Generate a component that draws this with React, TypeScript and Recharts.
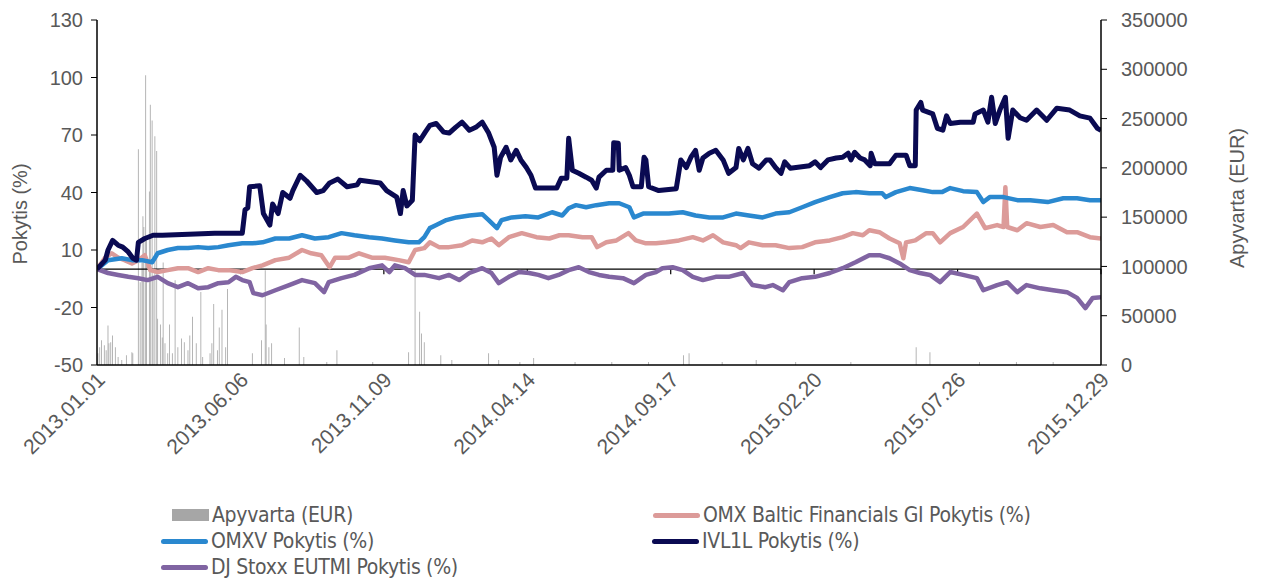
import { ComposedChart, Line, Bar, XAxis, YAxis, ReferenceLine } from "recharts";

// x positions are days counted from 2013.01.01
const tickDays = [0, 156, 312, 468, 624, 780, 936, 1092];
const tickLabels = [
  "2013.01.01",
  "2013.06.06",
  "2013.11.09",
  "2014.04.14",
  "2014.09.17",
  "2015.02.20",
  "2015.07.26",
  "2015.12.29",
];

const volDays = [1, 3, 5, 8, 10, 12, 13, 15, 17, 20, 23, 27, 32, 38, 39, 45, 47, 49, 50, 51, 53, 54, 57, 58, 60, 61, 63, 65, 66, 69, 71, 72, 74, 77, 79, 82, 85, 88, 92, 95, 99, 101, 104, 108, 113, 115, 123, 125, 127, 131, 133, 136, 140, 142, 169, 179, 183, 184, 187, 190, 204, 220, 225, 250, 261, 300, 339, 346, 351, 353, 356, 374, 386, 426, 437, 460, 475, 520, 560, 600, 638, 644, 680, 717, 760, 820, 891, 906, 960, 1000, 1040];
const volValues = [12000, 18000, 25000, 20000, 15000, 40000, 22000, 23000, 30000, 18000, 8000, 5000, 10000, 13000, 12000, 219000, 84000, 104000, 151000, 140000, 294000, 130000, 176000, 264000, 248000, 91000, 232000, 217000, 47000, 41000, 28000, 104000, 22000, 12000, 41000, 12000, 86000, 18000, 27000, 23000, 15000, 30000, 49000, 22000, 74000, 8000, 12000, 22000, 62000, 15000, 38000, 56000, 18000, 77000, 12000, 25000, 96000, 41000, 18000, 22000, 7000, 38000, 8000, 3000, 15000, 3000, 13000, 97000, 54000, 32000, 23000, 10000, 5000, 12000, 5000, 3000, 7000, 3000, 3000, 3000, 10000, 12000, 3000, 5000, 3000, 3000, 18000, 13000, 3000, 3000, 3000];

const ivlDays = [0, 9, 12, 17, 23, 28, 34, 39, 43, 45, 52, 61, 71, 107, 128, 158, 161, 164, 166, 177, 181, 188, 191, 197, 202, 210, 213, 221, 228, 239, 246, 253, 262, 272, 283, 286, 308, 315, 326, 330, 333, 337, 343, 346, 351, 357, 362, 369, 377, 383, 390, 397, 405, 412, 419, 426, 432, 435, 439, 445, 450, 456, 461, 467, 472, 477, 500, 505, 511, 513, 517, 524, 532, 538, 543, 546, 554, 561, 562, 567, 568, 575, 579, 583, 592, 595, 597, 600, 611, 630, 635, 641, 646, 651, 655, 659, 666, 673, 681, 687, 695, 698, 703, 708, 713, 720, 728, 732, 738, 744, 748, 754, 775, 781, 787, 795, 804, 811, 817, 820, 824, 830, 835, 841, 842, 846, 862, 869, 880, 884, 890, 891, 896, 898, 909, 914, 920, 924, 928, 939, 953, 955, 964, 969, 973, 977, 982, 988, 991, 996, 1004, 1011, 1022, 1033, 1044, 1058, 1069, 1080, 1088, 1092];
const ivlValues = [0, 4.7, 10, 15, 12.5, 11.5, 9, 5.7, 4.7, 14, 16, 17.7, 17.7, 18.3, 18.8, 18.8, 31, 32, 43, 43.5, 29, 23, 34, 29, 40, 37, 41, 49, 46, 40, 41, 45, 47, 43, 44, 46.4, 45, 41, 37.6, 29, 41, 33, 36, 70, 67, 71.5, 75, 76, 71.5, 71, 74, 76.7, 72.5, 74, 76.7, 71, 63.6, 49, 58.4, 63.6, 57, 62, 57, 53, 49, 42.3, 42.3, 47.5, 47.5, 68.3, 51.6, 50, 48, 46.4, 42.3, 48, 51.6, 51.6, 66, 65.7, 51.6, 53, 49, 43, 43, 58.4, 57, 43, 41, 42, 57, 53, 58.4, 62, 51.6, 58, 60.5, 62, 57, 50, 53, 63, 57, 63, 55, 52.7, 57, 57, 53, 50, 56, 52.7, 54, 56, 53, 57, 58, 58.4, 60.5, 57, 61, 58, 57, 54, 60.5, 55, 55, 59.5, 59.5, 54, 54, 83, 87, 83, 81, 73.5, 72.5, 80, 76, 76.7, 76.7, 81, 83, 76.7, 89.7, 76, 83, 89.7, 68.3, 83, 79, 77.7, 83, 77.7, 84, 83, 80, 78.8, 73.5, 72.5];

const omxvDays = [0, 12, 27, 38, 49, 60, 66, 77, 88, 99, 110, 121, 132, 143, 158, 169, 180, 194, 209, 223, 237, 252, 266, 280, 296, 310, 324, 339, 350, 356, 362, 369, 380, 391, 405, 419, 426, 435, 440, 451, 466, 480, 495, 506, 513, 521, 532, 543, 557, 568, 579, 584, 594, 608, 622, 637, 651, 666, 681, 695, 709, 724, 738, 753, 767, 781, 797, 811, 825, 840, 854, 858, 869, 884, 898, 909, 919, 928, 942, 957, 964, 971, 986, 1001, 1015, 1034, 1051, 1066, 1080, 1092];
const omxvValues = [0, 4.7, 5.7, 4.7, 4.7, 3.6, 8.3, 10, 11, 11, 11.5, 11, 11.5, 12.5, 13.5, 13.5, 14, 16, 16, 17.7, 16, 16.7, 18.8, 17.7, 16.7, 16, 15, 14, 14, 16.7, 21.4, 23, 25.6, 27, 28, 28.7, 25.6, 21.4, 25.6, 27, 27.6, 27, 29.7, 28, 31.8, 33.4, 32.3, 33.4, 34.4, 34.4, 32.3, 27, 29, 29, 29, 29.7, 28, 27, 27, 29, 28, 27, 29, 29.7, 32.3, 35, 37.6, 39.6, 40.2, 39.6, 39.6, 37.6, 40.2, 42.3, 41.2, 40.2, 40.2, 42.3, 40.7, 40.2, 35, 37.6, 37.6, 36, 36, 35, 37, 37, 36, 36];

const balticDays = [0, 9, 16, 23, 30, 38, 45, 52, 58, 66, 77, 88, 99, 110, 121, 132, 143, 158, 169, 180, 194, 209, 223, 233, 244, 253, 259, 274, 285, 299, 313, 328, 339, 346, 356, 362, 372, 383, 397, 408, 419, 429, 437, 448, 462, 478, 492, 503, 513, 528, 538, 544, 554, 565, 578, 586, 597, 608, 619, 633, 648, 659, 670, 681, 695, 700, 709, 724, 738, 753, 767, 781, 797, 811, 822, 833, 840, 851, 862, 873, 877, 880, 890, 902, 909, 917, 928, 942, 957, 966, 979, 986, 988, 990, 1001, 1011, 1026, 1040, 1055, 1066, 1080, 1092];
const balticValues = [0, 6, 8.3, 6, 4.7, 3, 4.7, 7.3, -0.5, -1.5, -0.5, 0.5, 0.5, -1.5, 0.5, -0.5, -0.5, -1.5, 0.5, 2, 4.7, 6, 10, 8.3, 7.3, 1, 6, 6, 8.3, 6, 6, 4.7, 3.6, 10, 11, 14, 11.5, 11.5, 12.5, 15, 14, 16, 12.5, 16.7, 18.8, 16.7, 16, 17.7, 17.7, 16.7, 16.7, 11.5, 14, 15, 18.8, 15, 13.5, 13.5, 14, 15, 16.7, 15, 17.7, 14, 12.5, 11, 14, 12.5, 12.5, 11, 11.5, 14, 15, 16.7, 18.8, 17.7, 20.3, 19.3, 16, 13.5, 5.7, 14, 15, 18.8, 18.8, 14, 18.8, 22, 29, 21.4, 23, 22, 42.8, 22, 20.3, 24, 22, 23, 19.3, 19.3, 16.7, 16];

const stoxxDays = [0, 12, 23, 34, 45, 55, 66, 77, 88, 99, 110, 121, 132, 143, 151, 158, 166, 170, 180, 194, 209, 223, 237, 247, 252, 266, 280, 296, 310, 318, 324, 335, 346, 356, 372, 383, 394, 405, 419, 429, 437, 448, 459, 470, 480, 491, 502, 513, 524, 535, 546, 557, 572, 584, 597, 608, 615, 626, 637, 648, 659, 673, 687, 703, 713, 727, 735, 746, 753, 767, 781, 797, 811, 825, 840, 851, 862, 873, 884, 895, 906, 917, 928, 942, 957, 964, 979, 990, 1001, 1011, 1026, 1040, 1055, 1066, 1075, 1083, 1092];
const stoxxValues = [0, -2, -3, -4, -4.7, -5.7, -4, -7.3, -9.4, -7.3, -10, -9.4, -7.3, -6.8, -4, -5.7, -6.8, -12.5, -13.6, -11, -8.3, -5.7, -7.3, -12, -6.8, -4.7, -3, 0.5, 2, -1.5, 2, 0.5, -3, -3, -4.7, -3, -5.7, -2, 0.5, -2, -7.3, -4, -1.5, -2, -3, -4.7, -3, -0.5, 1, -1.5, -3, -4, -4.7, -7.3, -3, -1.5, 0.5, 1, -0.5, -4, -5.7, -4, -4, -2, -8.3, -9.4, -8.3, -11, -6.8, -4.7, -4, -2, 0.5, 3.6, 7.3, 7.3, 5.7, 3, -0.5, -2, -3, -6.8, -1.5, -3, -4.7, -11, -8.3, -6.8, -12, -8.3, -10, -11, -12, -15, -20.3, -15, -14.6];

type Row = { day: number; [key: string]: number };

function buildRows(): Row[] {
  const map = new Map<number, Row>();
  const put = (days: number[], vals: number[], key: string) => {
    days.forEach((d, i) => {
      const r = map.get(d) ?? { day: d };
      r[key] = vals[i];
      map.set(d, r);
    });
  };
  put(volDays, volValues, "vol");
  put(ivlDays, ivlValues, "ivl");
  put(omxvDays, omxvValues, "omxv");
  put(balticDays, balticValues, "baltic");
  put(stoxxDays, stoxxValues, "stoxx");
  return Array.from(map.values()).sort((a, b) => a.day - b.day);
}

const rows = buildRows();

const GREY = "#595959";
const FONT = "'Liberation Sans', Arial, sans-serif";
const legendFont = "'DejaVu Sans Condensed', 'DejaVu Sans', sans-serif";

const DateTick = (props: any) => {
  const { x, y, payload } = props;
  const label = tickLabels[tickDays.indexOf(payload.value)];
  return (
    <g transform={`translate(${x + 4},${y + 3})`}>
      <text
        x={0}
        y={0}
        dy="0.35em"
        textAnchor="end"
        transform="rotate(-45)"
        fill={GREY}
        fontSize={21}
        fontFamily={FONT}
      >
        {label}
      </text>
    </g>
  );
};

function LegendItem({ left, top, label, kind, color }: { left: number; top: number; label: string; kind: "bar" | "line"; color: string }) {
  return (
    <div style={{ position: "absolute", left, top, height: 26, display: "flex", alignItems: "center" }}>
      {kind === "bar" ? (
        <span style={{ width: 37, height: 12, background: color, display: "inline-block", marginRight: 3 }} />
      ) : (
        <span style={{ width: 47, height: 5, borderRadius: 3, background: color, display: "inline-block", marginRight: 3 }} />
      )}
      <span style={{ fontFamily: legendFont, fontSize: 21, color: GREY, whiteSpace: "nowrap", letterSpacing: -0.3 }}>{label}</span>
    </div>
  );
}

export default function App() {
  return (
    <div style={{ position: "absolute", left: 0, top: 0, width: 1262, height: 584, background: "#fff", fontFamily: FONT }}>
      <ComposedChart width={1262} height={470} data={rows} margin={{ top: 20, right: 0, bottom: 0, left: 0 }}>
        <XAxis
          dataKey="day"
          type="number"
          domain={[0, 1092]}
          ticks={tickDays}
          interval={0}
          tick={<DateTick />}
          tickLine={false}
          tickSize={0}
          tickMargin={8}
          height={105}
          axisLine={{ stroke: "#000", strokeWidth: 1.5 }}
          allowDataOverflow
        />
        <YAxis
          yAxisId="left"
          domain={[-50, 130]}
          ticks={[-50, -20, 10, 40, 70, 100, 130]}
          interval={0}
          width={97}
          tickSize={6}
          tickMargin={8}
          tick={{ fill: GREY, fontSize: 20, fontFamily: FONT }}
          tickLine={{ stroke: "#000" }}
          axisLine={{ stroke: "#000", strokeWidth: 1.5 }}
        />
        <YAxis
          yAxisId="right"
          orientation="right"
          domain={[0, 350000]}
          ticks={[0, 50000, 100000, 150000, 200000, 250000, 300000, 350000]}
          interval={0}
          width={161}
          tickSize={6}
          tickMargin={14}
          tick={{ fill: GREY, fontSize: 20, fontFamily: FONT, textAnchor: "start" }}
          tickLine={{ stroke: "#000" }}
          axisLine={{ stroke: "#000", strokeWidth: 1.5 }}
        />
        <ReferenceLine yAxisId="left" y={0} stroke="#000" strokeWidth={1.2} />
        {/* small date ticks hanging under the zero line, as in the Excel original */}
        {tickDays.slice(1).map((d) => (
          <ReferenceLine
            key={d}
            yAxisId="left"
            segment={[{ x: d, y: 0 }, { x: d, y: -2.6 }]}
            stroke="#000"
            strokeWidth={1.2}
          />
        ))}
        <Bar yAxisId="right" dataKey="vol" fill="#a6a6a6" barSize={2} isAnimationActive={false} />
        <Line yAxisId="left" dataKey="baltic" type="linear" stroke="#dc9b99" strokeWidth={4.5} dot={false} connectNulls strokeLinejoin="round" isAnimationActive={false} />
        <Line yAxisId="left" dataKey="omxv" type="linear" stroke="#2a88cf" strokeWidth={4.5} dot={false} connectNulls strokeLinejoin="round" isAnimationActive={false} />
        <Line yAxisId="left" dataKey="stoxx" type="linear" stroke="#8064a2" strokeWidth={4.5} dot={false} connectNulls strokeLinejoin="round" isAnimationActive={false} />
        <Line yAxisId="left" dataKey="ivl" type="linear" stroke="#0a0a52" strokeWidth={5} dot={false} connectNulls strokeLinejoin="round" isAnimationActive={false} />
      </ComposedChart>

      <div style={{ position: "absolute", left: 20, top: 214, transform: "translate(-50%,-50%) rotate(-90deg)", fontSize: 20, color: GREY, whiteSpace: "nowrap" }}>
        Pokytis (%)
      </div>
      <div style={{ position: "absolute", left: 1237, top: 198, transform: "translate(-50%,-50%) rotate(-90deg)", fontSize: 20, color: GREY, whiteSpace: "nowrap" }}>
        Apyvarta (EUR)
      </div>

      <LegendItem left={172} top={502} label="Apyvarta (EUR)" kind="bar" color="#a6a6a6" />
      <LegendItem left={161} top={528} label="OMXV Pokytis (%)" kind="line" color="#2a88cf" />
      <LegendItem left={161} top={554} label="DJ Stoxx EUTMI Pokytis (%)" kind="line" color="#8064a2" />
      <LegendItem left={653} top={502} label="OMX Baltic Financials GI Pokytis (%)" kind="line" color="#dc9b99" />
      <LegendItem left={652} top={528} label="IVL1L Pokytis (%)" kind="line" color="#0a0a52" />
    </div>
  );
}
